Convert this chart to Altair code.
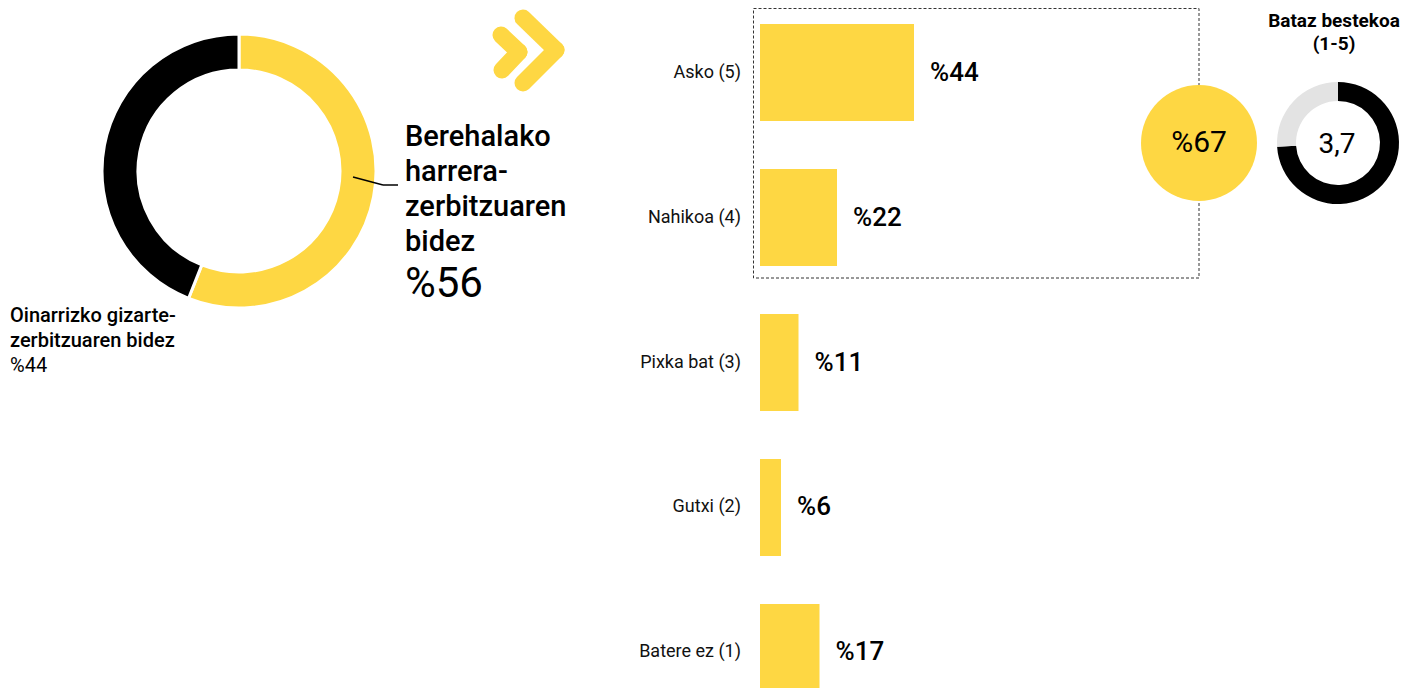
import altair as alt
import pandas as pd

# ---------------- data ----------------
channel_labels = ["Berehalako harrera-zerbitzuaren bidez", "Oinarrizko gizarte-zerbitzuaren bidez"]
channel_shares = [56, 44]
channel_colors = ["#FED743", "#000000"]

categories = ["Asko (5)", "Nahikoa (4)", "Pixka bat (3)", "Gutxi (2)", "Batere ez (1)"]
shares = [44, 22, 11, 6, 17]

satisfied_share = 67          # Asko + Nahikoa
mean_score = 3.7
score_max = 5

YELLOW = "#FED743"
FONT = "Roboto"
OX, OY = 8, 8  # page margin offset used when reading positions

donut_df = pd.DataFrame({"label": channel_labels, "share": channel_shares,
                         "color": channel_colors, "order": [0, 1]})
bars_df = pd.DataFrame({"cat": categories, "share": shares,
                        "lbl": ["%" + str(s) for s in shares]})
mean_df = pd.DataFrame({"part": ["mean", "rest"],
                        "val": [mean_score, score_max - mean_score],
                        "color": ["#000000", "#E3E3E3"], "order": [0, 1]})
one = pd.DataFrame({"k": [0]})


def px(x):
    return alt.value(x - OX)


def py(y):
    return alt.value(y - OY)


# ---------------- left donut ----------------
donut = alt.Chart(donut_df).mark_arc(innerRadius=101, outerRadius=137,
                                     stroke="white", strokeWidth=3).encode(
    theta=alt.Theta("share:Q", stack=True),
    color=alt.Color("color:N", scale=None),
    order=alt.Order("order:Q"),
    x=px(239), y=py(171),
)

connector1 = alt.Chart(one).mark_rule(color="black", strokeWidth=1.5).encode(
    x=px(353), y=py(177), x2=px(383), y2=py(185))
connector2 = alt.Chart(one).mark_rule(color="black", strokeWidth=1.5).encode(
    x=px(383), y=py(185), x2=px(398), y2=py(185))


def text_layer(txt, x, y, size, weight="normal", align="left", baseline="middle",
               color="black", line_height=None):
    # for multi-line text, y is the centre of the first line
    kw = dict(font=FONT, fontSize=size, fontWeight=weight, align=align,
              baseline=baseline, color=color)
    if line_height is not None:
        kw["lineBreak"] = "\n"
        kw["lineHeight"] = line_height
    return alt.Chart(one).mark_text(**kw).encode(
        x=px(x), y=py(y), text=alt.value(txt))


big_label = text_layer("Berehalako\nharrera-\nzerbitzuaren\nbidez", 405, 137, 29,
                       weight=500, line_height=35)
big_value = text_layer("%" + str(channel_shares[0]), 405, 284, 42)
small_label = text_layer("Oinarrizko gizarte-\nzerbitzuaren bidez",
                         10, 316, 20, weight=500, line_height=25)
small_value = text_layer("%" + str(channel_shares[1]), 10, 366, 20)

# ---------------- chevron icon ----------------
chev_pts = [
    (501, 35, 519, 52), (519, 52, 502, 70),
    (523, 18, 556, 50), (556, 50, 523, 83),
]
chevrons = [
    alt.Chart(one).mark_rule(color=YELLOW, strokeWidth=17, strokeCap="round").encode(
        x=px(a), y=py(b), x2=px(c), y2=py(d))
    for a, b, c, d in chev_pts
]

# ---------------- bars ----------------
xscale = alt.Scale(domain=[0, 100], range=[760 - OX, 760 - OX + 350])
yscale = alt.Scale(domain=categories, range=[24 - OY, 24 - OY + 677],
                   paddingInner=0.331, paddingOuter=0)

bars = alt.Chart(bars_df).mark_bar(color=YELLOW).encode(
    x=alt.X("share:Q", scale=xscale, axis=None),
    y=alt.Y("cat:N", scale=yscale, axis=None, sort=categories),
)
bar_vals = alt.Chart(bars_df).mark_text(font=FONT, fontSize=26, fontWeight=500,
                                        align="left", dx=16, color="black").encode(
    x=alt.X("share:Q", scale=xscale, axis=None),
    y=alt.Y("cat:N", scale=yscale, axis=None, sort=categories),
    text="lbl:N",
)
bar_cats = alt.Chart(bars_df).mark_text(font=FONT, fontSize=18, align="right",
                                        color="#111111").encode(
    x=px(741),
    y=alt.Y("cat:N", scale=yscale, axis=None, sort=categories),
    text="cat:N",
)

# dotted box around top two categories
box = alt.Chart(one).mark_rect(fill=None, stroke="#333333", strokeWidth=1,
                               strokeDash=[3, 2]).encode(
    x=px(753.5), y=py(8.5), x2=px(1199), y2=py(278))

circle67 = alt.Chart(one).mark_circle(color=YELLOW, opacity=1).encode(
    x=px(1199), y=py(143), size=alt.value(116 * 116))
text67 = text_layer("%" + str(satisfied_share), 1199, 143, 30, align="center")

# ---------------- mean donut ----------------
mean_donut = alt.Chart(mean_df).mark_arc(innerRadius=42, outerRadius=61).encode(
    theta=alt.Theta("val:Q", stack=True),
    color=alt.Color("color:N", scale=None),
    order=alt.Order("order:Q"),
    x=px(1338), y=py(143),
)
mean_text = text_layer(f"{mean_score:.1f}".replace(".", ","), 1337, 145, 28, align="center")
mean_title = text_layer("Bataz bestekoa\n(1-5)", 1334, 21, 19, weight="bold",
                        align="center", line_height=23)

chart = alt.layer(
    donut, connector1, connector2, big_label, big_value, small_label, small_value,
    *chevrons, box, bars, bar_vals, bar_cats, circle67, text67,
    mean_donut, mean_text, mean_title,
).resolve_scale(theta="independent").properties(
    width=1398, height=680, autosize=alt.AutoSizeParams(type="none"),
    padding=0, background="white",
).configure_view(stroke=None)

chart.save("out.html", embed_options={"renderer": "svg", "actions": False})
